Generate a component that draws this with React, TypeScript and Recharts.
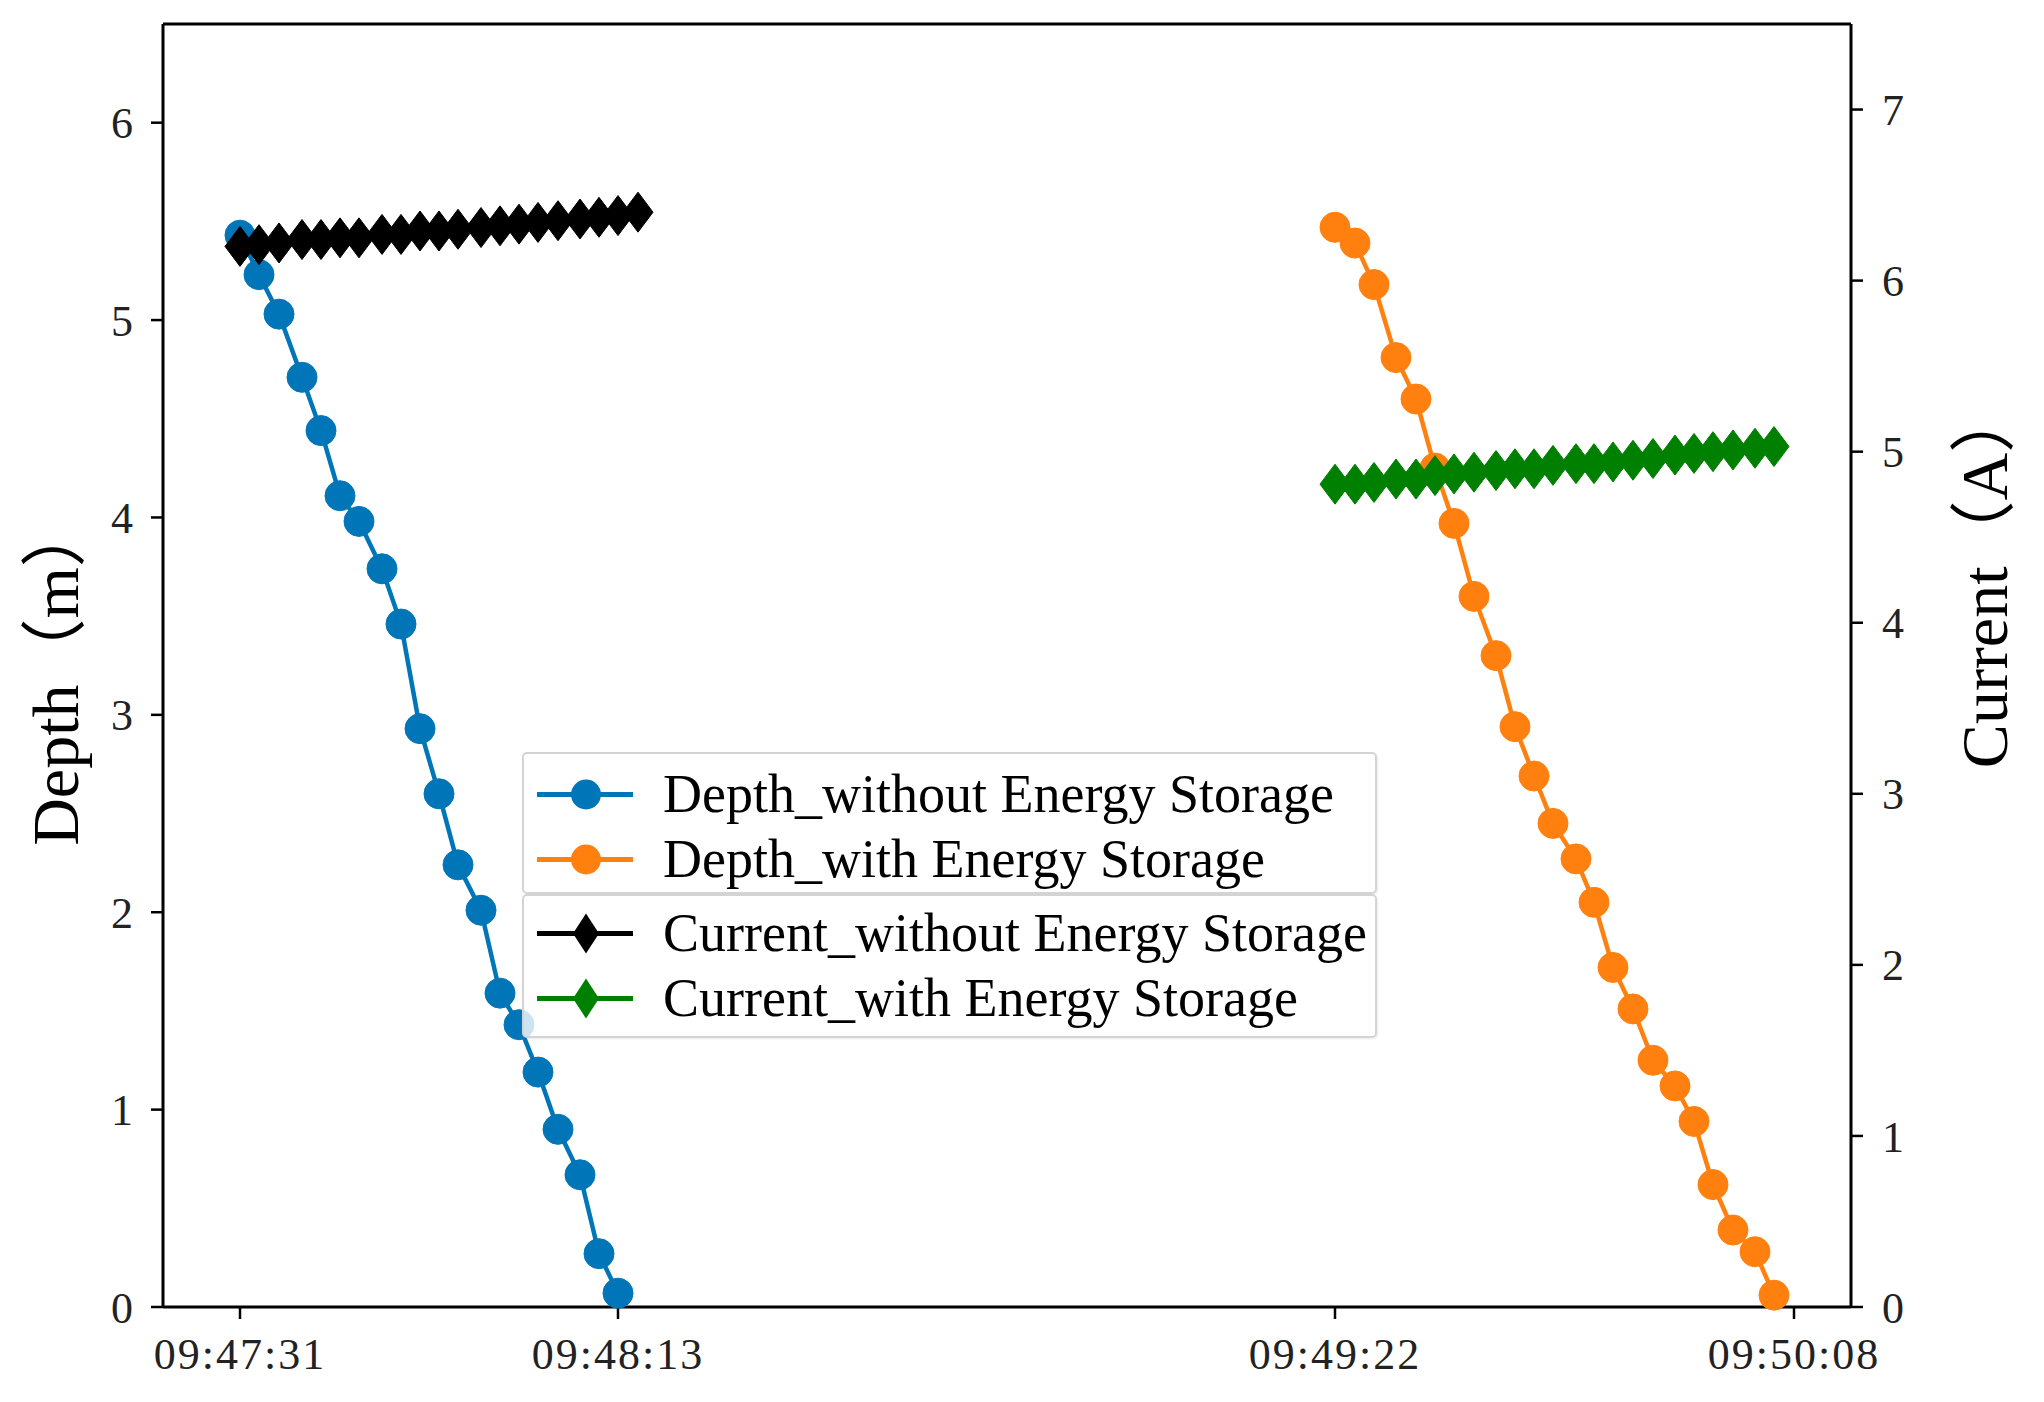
import React from 'react';
import { LineChart, Line, XAxis, YAxis, ReferenceLine } from 'recharts';

// elapsed seconds (scaled) for each sample
const tWithout = [0, 1.9, 3.9, 6.2, 8.1, 10.0, 11.9, 14.2, 16.1, 18.0, 19.9, 21.8, 24.1, 26.0, 27.9, 29.8, 31.8, 34.0, 35.9, 37.8];
const tCurrentWithout = [0, 1.9, 3.9, 6.2, 8.1, 10.0, 11.9, 14.2, 16.1, 18.0, 19.9, 21.8, 24.1, 26.0, 27.9, 29.8, 31.8, 34.0, 35.9, 37.8, 39.8];
const tWith = [109.5, 111.5, 113.4, 115.6, 117.6, 119.5, 121.4, 123.4, 125.6, 127.5, 129.4, 131.3, 133.6, 135.4, 137.3, 139.3, 141.3, 143.5, 145.4, 147.3, 149.3, 151.5, 153.4];

const depthWithout = [5.43, 5.23, 5.03, 4.71, 4.44, 4.11, 3.98, 3.74, 3.46, 2.93, 2.60, 2.24, 2.01, 1.59, 1.43, 1.19, 0.90, 0.67, 0.27, 0.07];
const depthWith = [5.47, 5.39, 5.18, 4.81, 4.60, 4.25, 3.97, 3.60, 3.30, 2.94, 2.69, 2.45, 2.27, 2.05, 1.72, 1.51, 1.25, 1.12, 0.94, 0.62, 0.39, 0.28, 0.06];
const currentWithout = [6.20, 6.21, 6.22, 6.24, 6.24, 6.25, 6.25, 6.27, 6.27, 6.29, 6.29, 6.30, 6.31, 6.32, 6.33, 6.34, 6.35, 6.36, 6.37, 6.38, 6.40];
const currentWith = [4.81, 4.81, 4.82, 4.84, 4.84, 4.86, 4.87, 4.88, 4.89, 4.90, 4.90, 4.92, 4.93, 4.93, 4.94, 4.95, 4.96, 4.98, 4.99, 5.00, 5.01, 5.02, 5.03];

const xTickValues = [0, 37.8, 109.5, 155.4];
const xTickLabels = ['09:47:31', '09:48:13', '09:49:22', '09:50:08'];
const depthTicks = [0, 1, 2, 3, 4, 5, 6];
const currentTicks = [0, 1, 2, 3, 4, 5, 6, 7];

const BLUE = '#0076b8';
const ORANGE = '#ff800e';
const BLACK = '#000000';
const GREEN = '#008000';

const zip = (ts: number[], vs: number[]) => ts.map((t, i) => ({ t, v: vs[i] }));
const dataDepthWithout = zip(tWithout, depthWithout);
const dataDepthWith = zip(tWith, depthWith);
const dataCurrentWithout = zip(tCurrentWithout, currentWithout);
const dataCurrentWith = zip(tWith, currentWith);

const SERIF = "'Liberation Serif', 'Times New Roman', serif";
const TITLE_FONT = "'Liberation Serif', 'Noto Sans CJK SC', serif";

const diamondDot = (color: string) => (p: any) => {
  const { cx, cy, index } = p;
  if (cx == null || cy == null) return <g key={index} />;
  return (
    <polygon
      key={index}
      points={`${cx},${cy - 20} ${cx + 15},${cy} ${cx},${cy + 20} ${cx - 15},${cy}`}
      fill={color}
      stroke={color}
      strokeWidth={1}
    />
  );
};

const legendGroups = [
  [
    { name: 'Depth_without Energy Storage', color: BLUE, marker: 'circle' },
    { name: 'Depth_with Energy Storage', color: ORANGE, marker: 'circle' },
  ],
  [
    { name: 'Current_without Energy Storage', color: BLACK, marker: 'diamond' },
    { name: 'Current_with Energy Storage', color: GREEN, marker: 'diamond' },
  ],
];

const LegendBox = ({ items, top, height, padTop }: any) => (
  <div
    style={{
      position: 'absolute',
      left: 522,
      top,
      width: 855,
      height,
      boxSizing: 'border-box',
      border: '2px solid #d4d4d4',
      borderRadius: 5,
      background: 'rgba(255,255,255,0.8)',
      paddingTop: padTop,
      boxShadow: '1px 1px 2px rgba(0,0,0,0.08)',
    }}
  >
    {items.map((it: any) => (
      <div key={it.name} style={{ display: 'flex', alignItems: 'center', height: 65 }}>
        <svg width={96} height={65} style={{ marginLeft: 13, flex: 'none' }}>
          <line x1={0} y1={32.5} x2={96} y2={32.5} stroke={it.color} strokeWidth={5} />
          {it.marker === 'circle' ? (
            <circle cx={49} cy={32.5} r={15} fill={it.color} />
          ) : (
            <polygon points={`49,${32.5 - 20} 62,32.5 49,${32.5 + 20} 36,32.5`} fill={it.color} />
          )}
        </svg>
        <span
          style={{
            marginLeft: 30,
            fontFamily: SERIF,
            fontSize: 54,
            lineHeight: '65px',
            color: '#000',
            whiteSpace: 'nowrap',
          }}
        >
          {it.name}
        </span>
      </div>
    ))}
  </div>
);

const LeftTitle = (props: any) => {
  const vb = props.viewBox || { x: 0, y: 24, width: 163, height: 1283 };
  const x = vb.x + 55;
  const y = vb.y + vb.height / 2 + 8;
  return (
    <text
      x={x}
      y={y}
      transform={`rotate(-90, ${x}, ${y})`}
      textAnchor="middle"
      dominantBaseline="central"
      fontFamily={TITLE_FONT}
      fontSize={66}
      fill="#000"
    >
      Depth（m）
    </text>
  );
};

const RightTitle = (props: any) => {
  const vb = props.viewBox || { x: 1851, y: 24, width: 193, height: 1283 };
  const x = vb.x + 133;
  const y = vb.y + vb.height / 2 - 88;
  return (
    <text
      x={x}
      y={y}
      transform={`rotate(-90, ${x}, ${y})`}
      textAnchor="middle"
      dominantBaseline="central"
      fontFamily={TITLE_FONT}
      fontSize={66}
      fill="#000"
    >
      Current（A）
    </text>
  );
};

const tickStyle = { fontFamily: SERIF, fontSize: 44, fill: '#222' };

export default function App() {
  return (
    <div style={{ position: 'absolute', left: 0, top: 0, width: 2044, height: 1402, background: '#fff' }}>
      <LineChart width={2044} height={1402} margin={{ top: 24, right: 0, bottom: 0, left: 0 }}>
        <XAxis
          dataKey="t"
          type="number"
          domain={[-7.7, 161.1]}
          allowDataOverflow
          ticks={xTickValues}
          tickFormatter={(v: number) => xTickLabels[xTickValues.indexOf(v)] ?? ''}
          height={95}
          tickSize={12}
          tickMargin={19}
          axisLine={{ stroke: '#000', strokeWidth: 3 }}
          tickLine={{ stroke: '#000', strokeWidth: 2.5 }}
          tick={{ ...tickStyle, letterSpacing: 2 }}
          interval={0}
        />
        <YAxis
          yAxisId="depth"
          orientation="left"
          type="number"
          domain={[0, 6.5]}
          ticks={depthTicks}
          width={163}
          tickSize={12}
          tickMargin={18}
          axisLine={{ stroke: '#000', strokeWidth: 3 }}
          tickLine={{ stroke: '#000', strokeWidth: 2.5 }}
          tick={tickStyle}
          interval={0}
          label={<LeftTitle />}
        />
        <YAxis
          yAxisId="current"
          orientation="right"
          type="number"
          domain={[0, 7.5]}
          ticks={currentTicks}
          width={193}
          tickSize={12}
          tickMargin={19}
          axisLine={{ stroke: '#000', strokeWidth: 3 }}
          tickLine={{ stroke: '#000', strokeWidth: 2.5 }}
          tick={tickStyle}
          interval={0}
          label={<RightTitle />}
        />
        <ReferenceLine yAxisId="depth" y={6.5} stroke="#000" strokeWidth={3} ifOverflow="extendDomain" />
        <Line
          yAxisId="depth"
          data={dataDepthWithout}
          dataKey="v"
          stroke={BLUE}
          strokeWidth={4.5}
          dot={{ r: 15, fill: BLUE, stroke: BLUE, strokeWidth: 1 }}
          isAnimationActive={false}
        />
        <Line
          yAxisId="depth"
          data={dataDepthWith}
          dataKey="v"
          stroke={ORANGE}
          strokeWidth={4.5}
          dot={{ r: 15, fill: ORANGE, stroke: ORANGE, strokeWidth: 1 }}
          isAnimationActive={false}
        />
        <Line
          yAxisId="current"
          data={dataCurrentWithout}
          dataKey="v"
          stroke={BLACK}
          strokeWidth={4.5}
          dot={diamondDot(BLACK)}
          isAnimationActive={false}
        />
        <Line
          yAxisId="current"
          data={dataCurrentWith}
          dataKey="v"
          stroke={GREEN}
          strokeWidth={4.5}
          dot={diamondDot(GREEN)}
          isAnimationActive={false}
        />
      </LineChart>
      <LegendBox items={legendGroups[0]} top={752} height={142} padTop={8} />
      <LegendBox items={legendGroups[1]} top={894} height={144} padTop={5} />
    </div>
  );
}
